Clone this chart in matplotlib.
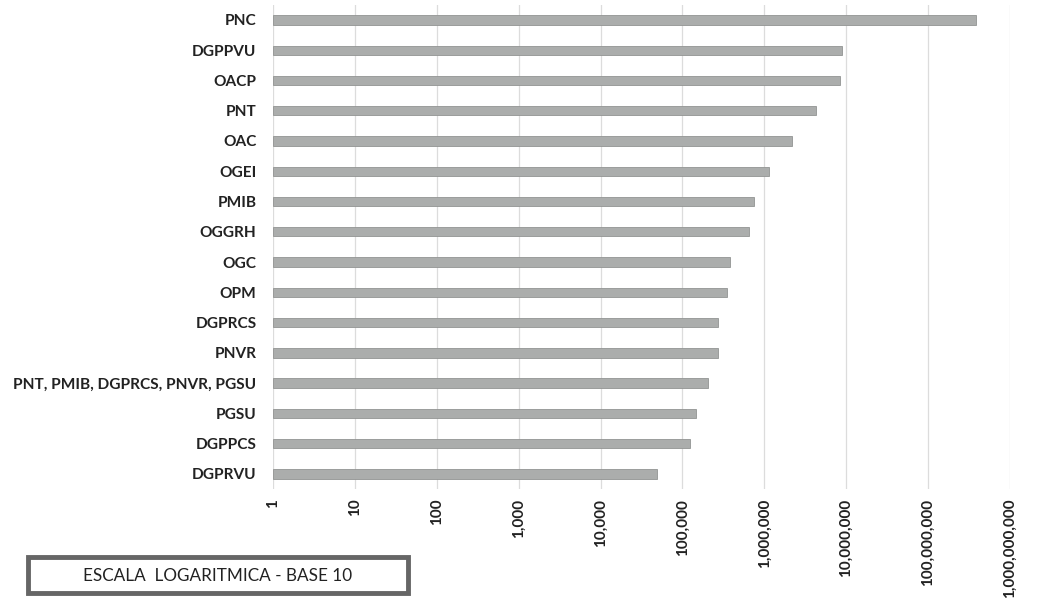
#!/usr/bin/env python3
"""Horizontal bar chart on log scale (base 10)."""
import numpy as np
import matplotlib
matplotlib.use("Agg")
import matplotlib.pyplot as plt
from matplotlib.patches import Rectangle
from matplotlib.ticker import FixedLocator, FuncFormatter, NullLocator

# --- data (top to bottom as drawn) -----------------------------------------
categories = ["PNC", "DGPPVU", "OACP", "PNT", "OAC", "OGEI", "PMIB", "OGGRH",
              "OGC", "OPM", "DGPRCS", "PNVR", "PNT, PMIB, DGPRCS, PNVR, PGSU",
              "PGSU", "DGPPCS", "DGPRVU"]
values = [3.85e8, 8.8e6, 8.5e6, 4.3e6, 2.2e6, 1.15e6, 7.4e5, 6.5e5,
          3.8e5, 3.5e5, 2.7e5, 2.7e5, 2.05e5, 1.46e5, 1.22e5, 4.9e4]
decades = [10 ** k for k in range(10)]
note = "ESCALA  LOGARITMICA - BASE 10"

BAR = "#abadac"
FONT = "Lato"

fig = plt.figure(figsize=(10.37, 6.08), dpi=100)
ax = fig.add_axes([0.2633, 0.1957, 0.7107, 0.7964])

y = np.arange(len(categories))
ax.barh(y, values, height=0.31, left=1, color=BAR, edgecolor="#929493",
        lw=0.6, zorder=3)
ax.set_xscale("log")
ax.set_xlim(1, 1e9)
ax.set_ylim(len(categories) - 0.5, -0.5)

ax.xaxis.set_major_locator(FixedLocator(decades))
ax.xaxis.set_minor_locator(NullLocator())
ax.xaxis.set_major_formatter(FuncFormatter(lambda v, p: f"{v:,.0f}"))
ax.grid(axis="x", color="#dcdcdc", lw=0.9, zorder=0)
ax.grid(axis="y", visible=False)

ax.set_yticks(y)
ax.set_yticklabels(categories, fontfamily=FONT, fontweight="bold",
                   fontsize=11.1, color="#222222")
for lab in ax.get_xticklabels():
    lab.set_rotation(90)
    lab.set_fontfamily(FONT)
    lab.set_fontweight("bold")
    lab.set_fontsize(11)
    lab.set_color("#222222")
ax.tick_params(axis="y", length=0, pad=12)
ax.tick_params(axis="x", length=0, pad=7)
for s in ax.spines.values():
    s.set_visible(False)

# legend-like note box at the lower left
fig.patches.append(Rectangle((0.027, 0.024), 0.366, 0.060,
                             transform=fig.transFigure, fill=False,
                             edgecolor="#666666", lw=3.5))
fig.text(0.210, 0.053, note, ha="center", va="center",
         fontfamily=FONT, fontsize=12.3, color="#222222")

fig.savefig("out.png", dpi=100)
